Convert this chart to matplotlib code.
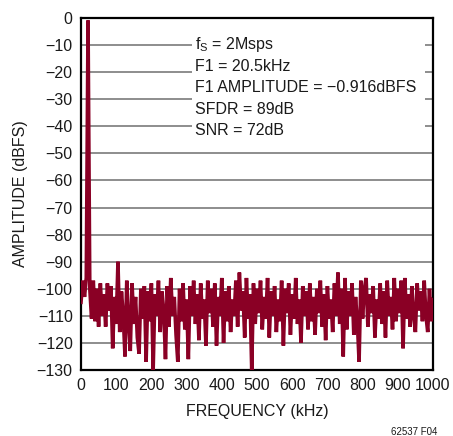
import matplotlib
matplotlib.use("Agg")
import matplotlib.pyplot as plt
from matplotlib.patches import Rectangle
import numpy as np

FONT = ['Liberation Sans Narrow', 'Liberation Sans', 'DejaVu Sans']
plt.rcParams['font.family'] = FONT
plt.rcParams['mathtext.fontset'] = 'custom'
plt.rcParams['mathtext.rm'] = 'Liberation Sans'

freq_khz = list(range(0, 1001, 5))
amplitude_dbfs = [
    -105, -97, -103, -96, -0.916, -100, -111, -97, -112, -100,
    -114, -98, -110, -102, -114, -98, -108, -99, -122, -103,
    -113, -90, -116, -101, -110, -125, -97, -112, -123, -98,
    -113, -103, -118, -124, -100, -111, -99, -127, -101, -112,
    -98, -130, -102, -110, -97, -116, -101, -108, -126, -99,
    -114, -96, -110, -103, -117, -127, -100, -112, -98, -115,
    -104, -126, -99, -110, -97, -113, -102, -119, -98, -111,
    -104, -121, -97, -109, -100, -114, -98, -121, -103, -110,
    -96, -120, -101, -112, -99, -116, -104, -110, -97, -114,
    -94, -108, -101, -118, -96, -111, -102, -130, -98, -113,
    -100, -109, -97, -115, -103, -111, -96, -118, -101, -110,
    -99, -116, -104, -112, -97, -121, -100, -109, -98, -117,
    -102, -111, -96, -113, -104, -120, -99, -110, -101, -115,
    -98, -112, -103, -117, -100, -109, -97, -114, -102, -119,
    -99, -111, -104, -116, -98, -110, -94, -113, -100, -125,
    -96, -115, -101, -110, -98, -117, -103, -112, -127, -97,
    -111, -100, -96, -114, -102, -109, -99, -118, -104, -111,
    -98, -113, -101, -118, -97, -110, -103, -115, -96, -112,
    -100, -109, -97, -122, -96, -111, -102, -114, -99, -110,
    -116, -98, -108, -101, -112, -97, -110, -116, -100, -112,
    -104,
]

x_ticks = [0, 100, 200, 300, 400, 500, 600, 700, 800, 900, 1000]
y_ticks = [0, -10, -20, -30, -40, -50, -60, -70, -80, -90, -100, -110, -120, -130]
info_lines = [
    r"f$_\mathregular{S}$ = 2Msps",
    "F1 = 20.5kHz",
    "F1 AMPLITUDE = \u22120.916dBFS",
    "SFDR = 89dB",
    "SNR = 72dB",
]

W, H = 453, 436
fig = plt.figure(figsize=(W / 100, H / 100), dpi=100)
ax = fig.add_axes([81 / W, 1 - 370 / H, 352 / W, 352 / H])

ax.set_xlim(0, 1000)
ax.set_ylim(-130, 0)
ax.set_xticks(x_ticks)
ax.set_yticks(y_ticks)
ax.set_xticklabels([str(v) for v in x_ticks])
ax.set_yticklabels([str(v).replace('-', '\u2212') for v in y_ticks])
ax.tick_params(length=0, labelsize=11.5, colors='#1a1a1a', pad=6)
for s in ax.spines.values():
    s.set_linewidth(1.6)
    s.set_color('black')

for y in y_ticks[1:-1]:
    ax.axhline(y, color='#858585', lw=1.3, zorder=1)

# white box behind the annotation
ax.add_patch(Rectangle((0.315, 0.655), 0.662, 0.318, transform=ax.transAxes,
                       facecolor='white', edgecolor='none', zorder=2))

ax.plot(freq_khz, amplitude_dbfs, color='#8a0025', lw=2.6, zorder=3,
        solid_joinstyle='miter')

for i, t in enumerate(info_lines):
    ax.text(0.323, 0.925 - i * 0.0615, t, transform=ax.transAxes, fontsize=11.5,
            color='#1a1a1a', va='center', ha='left', zorder=4)

ax.set_xlabel("FREQUENCY (kHz)", fontsize=11.5, color='#1a1a1a', labelpad=8)
ax.set_ylabel("AMPLITUDE (dBFS)", fontsize=11.5, color='#1a1a1a', labelpad=6)

fig.text(437 / W, 1 - 432 / H, "62537 F04", fontsize=7, ha='right', va='center',
         color='#1a1a1a')

fig.savefig("out.png", dpi=100)
